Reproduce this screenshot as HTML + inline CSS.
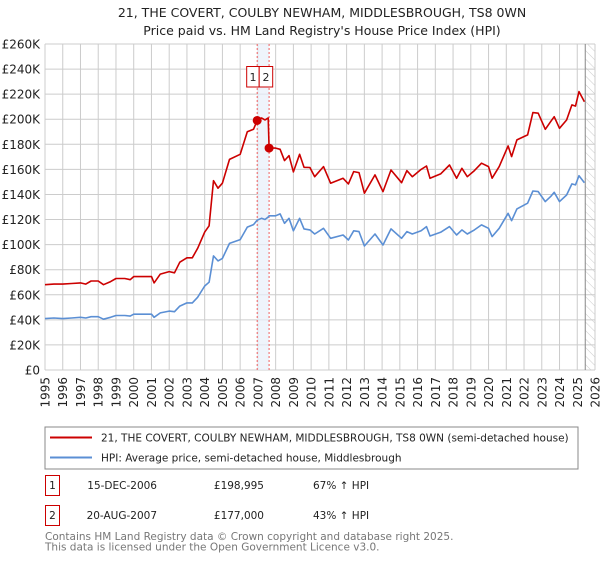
<!DOCTYPE html>
<html><head><meta charset="utf-8"><style>
body{margin:0;background:#fff;font-family:"Liberation Sans","DejaVu Sans",sans-serif;}
svg text{font-family:"DejaVu Sans","Liberation Sans",sans-serif;}
</style></head><body>
<svg id="chart" width="600" height="560" viewBox="0 0 600 560">
<defs>
<pattern id="hatch" width="6" height="6" patternUnits="userSpaceOnUse" patternTransform="rotate(-45)">
<line x1="0" y1="0" x2="0" y2="6" stroke="#ccc" stroke-width="1"/>
</pattern>
</defs>
<text x="322" y="17" text-anchor="middle" font-size="12.5" fill="#222">21, THE COVERT, COULBY NEWHAM, MIDDLESBROUGH, TS8 0WN</text>
<text x="322" y="35" text-anchor="middle" font-size="12.5" fill="#222">Price paid vs. HM Land Registry's House Price Index (HPI)</text>
<g id="grid"></g>
<g id="marks"></g>
<g id="axes"></g>
<rect x="45" y="427" width="533" height="42" fill="#fff" stroke="#888"/>
<line x1="50" y1="437.5" x2="92" y2="437.5" stroke="#cc0000" stroke-width="2"/>
<text x="101" y="441.5" font-size="10.5" fill="#222">21, THE COVERT, COULBY NEWHAM, MIDDLESBROUGH, TS8 0WN (semi-detached house)</text>
<line x1="50" y1="457.5" x2="92" y2="457.5" stroke="#5b8fd4" stroke-width="2"/>
<text x="101" y="461.5" font-size="10.5" fill="#222">HPI: Average price, semi-detached house, Middlesbrough</text>
<g>
<rect x="45.5" y="475.5" width="14" height="20" fill="#fff" stroke="#cc0000"/>
<text x="52.5" y="489" text-anchor="middle" font-size="10.5" fill="#222">1</text>
<text x="157" y="489" text-anchor="end" font-size="10.5" fill="#222">15-DEC-2006</text>
<text x="264" y="489" text-anchor="end" font-size="10.5" fill="#222">£198,995</text>
<text x="313" y="489" font-size="10.5" fill="#222">67% ↑ HPI</text>
</g>
<g>
<rect x="45.5" y="505.5" width="14" height="20" fill="#fff" stroke="#cc0000"/>
<text x="52.5" y="519" text-anchor="middle" font-size="10.5" fill="#222">2</text>
<text x="157" y="519" text-anchor="end" font-size="10.5" fill="#222">20-AUG-2007</text>
<text x="264" y="519" text-anchor="end" font-size="10.5" fill="#222">£177,000</text>
<text x="313" y="519" font-size="10.5" fill="#222">43% ↑ HPI</text>
</g>
<text x="45" y="540" font-size="10.5" fill="#777">Contains HM Land Registry data © Crown copyright and database right 2025.</text>
<text x="45" y="550.5" font-size="10.5" fill="#777">This data is licensed under the Open Government Licence v3.0.</text>
</svg>
<script>
const years=[1995.0,1995.5,1996.0,1996.5,1997.0,1997.3,1997.6,1998.0,1998.3,1998.7,1999.0,1999.5,1999.8,2000.0,2000.5,2001.0,2001.15,2001.5,2002.0,2002.3,2002.6,2003.0,2003.3,2003.6,2004.0,2004.25,2004.5,2004.75,2005.0,2005.4,2006.0,2006.4,2006.75,2006.96,2007.2,2007.4,2007.58,2007.63,2008.0,2008.25,2008.5,2008.75,2009.0,2009.35,2009.6,2009.93,2010.2,2010.7,2011.1,2011.8,2012.1,2012.4,2012.7,2013.0,2013.6,2014.05,2014.5,2015.1,2015.4,2015.7,2016.2,2016.5,2016.7,2017.3,2017.8,2018.2,2018.5,2018.8,2019.2,2019.6,2020.0,2020.2,2020.6,2021.1,2021.3,2021.6,2022.2,2022.5,2022.8,2023.2,2023.5,2023.7,2024.0,2024.4,2024.7,2024.9,2025.1,2025.4];
const hpiValues=[41,41.5,41,41.5,42,41.5,42.5,42.5,40.5,42,43.5,43.5,43,44.5,44.5,44.5,42,45.5,47,46.5,51,53.5,53.5,58,67,70,91,87,89,101,104,114,116,119.5,121,120,122,123,123,124.5,117,121,111,121,112.5,111.7,108.5,113,105,107.7,103.7,111,110.4,98.9,108.5,99.7,112.5,105,110.4,108.5,111,114.4,106.9,109.8,114.4,107.7,111.7,108.5,111.7,115.7,113,106.4,113,125,119.1,128.5,133,142.8,142.3,134.3,138.3,141.7,134.3,139.6,148.4,147.6,155,149.4];
const priceValues=[68,68.5,68.5,69,69.5,68.5,71,71,68,70.5,73,73,72,74.5,74.5,74.5,69.5,76.5,78.5,77.5,86,89.5,89.5,97,110,115,151,145,149,168,172,190,192,199,201,199.5,201,177,177,176,167,171,158,172,161.7,161.5,154.2,162.2,149,152.9,148.4,158.2,157.4,141,155.6,142.3,159.5,149.4,159,154.2,160,162.7,152.9,156.4,163.5,152.9,160.9,154.2,159,164.9,162.2,153,162.2,178.7,170.2,183.5,187.5,205.3,204.8,192,198,202,192.8,199.4,211.4,210.5,222,214];
const saleYears=[2006.96,2007.63];
const salePrices=[198.995,177];
const saleLabels=["1","2"];
const yTicks=[0,20,40,60,80,100,120,140,160,180,200,220,240,260];
const yTickLabels=["£0","£20K","£40K","£60K","£80K","£100K","£120K","£140K","£160K","£180K","£200K","£220K","£240K","£260K"];
const xTicks=[1995,1996,1997,1998,1999,2000,2001,2002,2003,2004,2005,2006,2007,2008,2009,2010,2011,2012,2013,2014,2015,2016,2017,2018,2019,2020,2021,2022,2023,2024,2025,2026];
const dataEnd=2025.45;

const NS="http://www.w3.org/2000/svg";
const X0=45,X1=595,Y0=370,Y1=44;
function xs(y){return X0+(y-1995)/(2026-1995)*(X1-X0);}
function ys(v){return Y0-v/260*(Y0-Y1);}
function mk(tag,attrs,parent){const e=document.createElementNS(NS,tag);for(const k in attrs)e.setAttribute(k,attrs[k]);parent.appendChild(e);return e;}
const grid=document.getElementById('grid'),marks=document.getElementById('marks'),axes=document.getElementById('axes');
yTicks.forEach((v,i)=>{
  const l=mk('line',{x1:X0,x2:X1,y1:ys(v),y2:ys(v),stroke:'#ccc','stroke-width':1},grid);
  
  
  const t=mk('text',{x:40,y:ys(v)+4.5,'text-anchor':'end','font-size':12,fill:'#222'},axes);
  t.textContent=yTickLabels[i];
  
  
});
xTicks.forEach(yr=>{
  const l=mk('line',{x1:xs(yr),x2:xs(yr),y1:Y1,y2:Y0,stroke:'#ccc','stroke-width':1},grid);
  
  
  const t=mk('text',{x:0,y:0,'text-anchor':'end','font-size':12,fill:'#222',transform:`translate(${xs(yr)+4.5},377) rotate(-90)`},axes);
  t.textContent=String(yr);
  
  
});
const h=mk('rect',{x:xs(dataEnd),y:Y1,width:X1-xs(dataEnd),height:Y0-Y1,fill:'url(#hatch)'},grid);


const hl=mk('line',{x1:xs(dataEnd),x2:xs(dataEnd),y1:Y1,y2:Y0,stroke:'#888','stroke-width':1},grid);


const band=mk('rect',{x:xs(saleYears[0]),y:Y1,width:xs(saleYears[1])-xs(saleYears[0]),height:Y0-Y1,fill:'#e8effa',opacity:0.7},grid);


saleYears.forEach((sy,i)=>{
  const l=mk('line',{x1:xs(sy),x2:xs(sy),y1:Y1,y2:Y0,stroke:'#f06060','stroke-width':1,'stroke-dasharray':'2,2'},grid);
  
  
});
function path(vals,color,name){
  const d=years.map((y,i)=>(i?'L':'M')+xs(y).toFixed(1)+','+ys(vals[i]).toFixed(1)).join('');
  const p=mk('path',{d:d,fill:'none',stroke:color,'stroke-width':1.6,'stroke-linejoin':'round'},marks);
  
  
}
path(hpiValues,'#5b8fd4','hpi-line');
path(priceValues,'#cc0000','price-line');
saleYears.forEach((sy,i)=>{
  const c=mk('circle',{cx:xs(sy),cy:ys(salePrices[i]),r:4.5,fill:'#cc0000'},marks);
  
  
});
saleLabels.forEach((lab,i)=>{
  const x=i===0?xs(saleYears[0])-10.5:xs(saleYears[0])+2;
  const r=mk('rect',{x:x,y:66.5,width:i===0?12.5:13.5,height:20.5,fill:'#fff',stroke:'#cc0000'},marks);
  
  
  const t=mk('text',{x:x+(i===0?6.25:6.75),y:81,'text-anchor':'middle','font-size':11,fill:'#222'},marks);
  t.textContent=lab;
  
  
});
</script>
</body></html>
